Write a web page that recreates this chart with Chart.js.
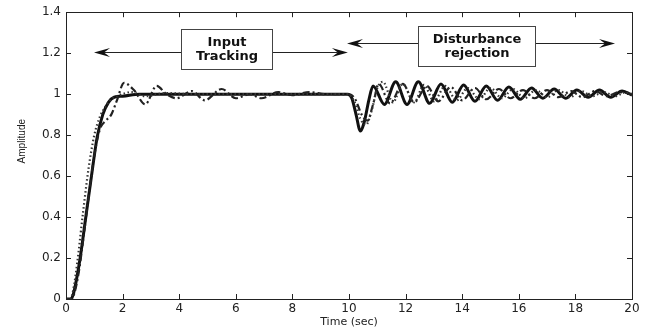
<!DOCTYPE html>
<html>
<head>
<meta charset="utf-8">
<script src="https://cdn.jsdelivr.net/npm/chart.js@4/dist/chart.umd.min.js"></script>
<style>
  body { margin: 0; background: #fff; }
  #wrap { width: 648px; height: 334px; position: relative; }
</style>
</head>
<body>
<div id="wrap"><canvas id="stepChart"></canvas></div>
<script>
// tick labels
const timeTicks = [0, 2, 4, 6, 8, 10, 12, 14, 16, 18, 20];
const ampTicks = [0, 0.2, 0.4, 0.6, 0.8, 1, 1.2, 1.4];

// solid response
const solidTime = [0, 0.15, 0.25, 0.35, 0.5, 0.7, 0.9, 1.1, 1.3, 1.5, 1.7, 2.0, 2.6, 4, 6, 8, 9.95, 10.1, 10.25, 10.4,
    10.55, 10.7, 10.85, 11.25, 11.65, 12.05, 12.45, 12.85, 13.25, 13.65, 14.05, 14.45, 14.85, 15.25, 15.65, 16.05,
    16.45, 16.85, 17.25, 17.65, 18.05, 18.45, 18.85, 19.25, 19.65, 20];
const solidAmp = [0, 0, 0.02, 0.08, 0.2, 0.4, 0.6, 0.79, 0.9, 0.96, 0.985, 0.99, 1.0, 1.0, 1.0, 1.0, 1.0, 0.98, 0.9, 0.82,
    0.87, 0.97, 1.04, 0.95, 1.06, 0.95, 1.06, 0.955, 1.05, 0.96, 1.045, 0.965, 1.04, 0.97, 1.035, 0.975,
    1.03, 0.98, 1.025, 0.98, 1.02, 0.985, 1.02, 0.985, 1.015, 0.995];

// dash-dot response
const dashTime = [0, 0.2, 0.3, 0.45, 0.6, 0.8, 1.0, 1.2, 1.4, 1.6, 1.8, 2.05, 2.4, 2.8, 3.2, 3.55, 3.9, 4.45, 4.9, 5.5,
    6.0, 6.5, 6.9, 7.5, 8.0, 8.6, 9.2, 9.95, 10.2, 10.45, 10.65, 10.85, 11.05, 11.45, 11.9, 12.3, 12.75, 13.15, 13.6, 14.0,
    14.45, 14.85, 15.3, 15.7, 16.15, 16.55, 17.0, 17.4, 17.85, 18.25, 18.7, 19.1, 19.55, 20];
const dashAmp = [0, 0, 0.03, 0.13, 0.28, 0.5, 0.7, 0.83, 0.87, 0.9, 0.97, 1.055, 1.02, 0.95, 1.04, 1.0, 0.98, 1.015, 0.97, 1.025,
    0.98, 1.0, 0.98, 1.01, 0.995, 1.01, 1.0, 1.0, 0.98, 0.9, 0.87, 0.95, 1.05, 0.955, 1.05, 0.96, 1.04, 0.965, 1.035, 0.97,
    1.03, 0.975, 1.025, 0.98, 1.02, 0.98, 1.02, 0.985, 1.015, 0.985, 1.015, 0.99, 1.01, 1.0];

// dotted response
const dotTime = [0, 0.15, 0.25, 0.4, 0.6, 0.8, 1.0, 1.2, 1.4, 1.6, 1.9, 2.3, 2.8, 3.5, 4.5, 9.95, 10.2, 10.4, 10.6, 10.8,
    11.0, 11.2, 11.55, 11.9, 12.3, 12.65, 13.0, 13.4, 13.8, 14.2, 14.6, 15.0, 15.4, 15.8, 16.2, 16.6, 17.0, 17.4, 17.8, 18.2,
    18.6, 19.0, 19.4, 19.8, 20];
const dotAmp = [0, 0, 0.04, 0.18, 0.42, 0.64, 0.8, 0.89, 0.94, 0.975, 0.995, 1.01, 0.99, 1.005, 1.0, 1.0, 0.96, 0.88, 0.85, 0.92,
    1.03, 1.06, 0.96, 1.05, 0.96, 1.045, 0.965, 1.04, 0.97, 1.03, 0.975, 1.03, 0.98, 1.025, 0.98, 1.02, 0.985, 1.02, 0.985, 1.015,
    0.99, 1.01, 0.99, 1.01, 1.0];

// text boxes with double arrows (data units)
const notes = [
    { lines: ['Input', 'Tracking'], from: 0.99, to: 9.96, level: 1.205, box: [4.06, 7.28, 1.317, 1.123] },
    { lines: ['Disturbance', 'rejection'], from: 9.93, to: 19.4, level: 1.25, box: [12.44, 16.57, 1.332, 1.138] }
];

const toPoints = (ts, vs) => ts.map((t, i) => ({ x: t, y: vs[i] }));

function arrowHead(ctx, xTip, yTip, dir) {
    const len = 16, half = 4.5, notch = 10;
    ctx.beginPath();
    ctx.moveTo(xTip, yTip);
    ctx.lineTo(xTip - dir * len, yTip - half);
    ctx.lineTo(xTip - dir * notch, yTip);
    ctx.lineTo(xTip - dir * len, yTip + half);
    ctx.closePath();
    ctx.fill();
}

const annotations = {
    id: 'annotations',
    afterDatasetsDraw(chart) {
        const { ctx, scales: { x, y } } = chart;
        ctx.save();
        notes.forEach(n => {
            const yy = Math.round(y.getPixelForValue(n.level)) + 0.5;
            const x1 = x.getPixelForValue(n.from);
            const x2 = x.getPixelForValue(n.to);
            ctx.strokeStyle = '#222';
            ctx.fillStyle = '#111';
            ctx.lineWidth = 1;
            ctx.beginPath();
            ctx.moveTo(x1 + 10, yy);
            ctx.lineTo(x2 - 10, yy);
            ctx.stroke();
            arrowHead(ctx, x1, yy, -1);
            arrowHead(ctx, x2, yy, 1);

            const bl = Math.round(x.getPixelForValue(n.box[0])) + 0.5;
            const br = Math.round(x.getPixelForValue(n.box[1])) + 0.5;
            const bt = Math.round(y.getPixelForValue(n.box[2])) + 0.5;
            const bb = Math.round(y.getPixelForValue(n.box[3])) + 0.5;
            ctx.fillStyle = '#fff';
            ctx.fillRect(bl, bt, br - bl, bb - bt);
            ctx.strokeStyle = '#444';
            ctx.strokeRect(bl, bt, br - bl, bb - bt);

            ctx.fillStyle = '#111';
            ctx.font = 'bold 13px "DejaVu Sans"';
            ctx.textAlign = 'center';
            ctx.textBaseline = 'middle';
            const cx = (bl + br) / 2, cy = (bt + bb) / 2;
            ctx.fillText(n.lines[0], cx, cy - 7);
            ctx.fillText(n.lines[1], cx, cy + 7);
        });
        ctx.restore();
    }
};

// matlab style box, inward ticks and axis titles
const matlabAxes = {
    id: 'matlabAxes',
    afterDraw(chart) {
        const { ctx, chartArea: a, scales: { x, y } } = chart;
        ctx.save();
        ctx.strokeStyle = '#222';
        ctx.lineWidth = 1;
        ctx.strokeRect(Math.round(a.left) + 0.5, Math.round(a.top) + 0.5, Math.round(a.right - a.left), Math.round(a.bottom - a.top));
        ctx.beginPath();
        x.ticks.forEach(t => {
            const px = Math.round(x.getPixelForValue(t.value)) + 0.5;
            ctx.moveTo(px, a.bottom); ctx.lineTo(px, a.bottom - 5);
            ctx.moveTo(px, a.top); ctx.lineTo(px, a.top + 5);
        });
        y.ticks.forEach(t => {
            const py = Math.round(y.getPixelForValue(t.value)) + 0.5;
            ctx.moveTo(a.left, py); ctx.lineTo(a.left + 5, py);
            ctx.moveTo(a.right, py); ctx.lineTo(a.right - 5, py);
        });
        ctx.stroke();

        ctx.fillStyle = '#222';
        ctx.textAlign = 'center';
        ctx.textBaseline = 'middle';
        ctx.font = '11px "DejaVu Sans"';
        ctx.fillText('Time (sec)', (a.left + a.right) / 2, a.bottom + 23);
        ctx.translate(22, a.top + 129);
        ctx.rotate(-Math.PI / 2);
        ctx.font = '10px "Liberation Sans Narrow", "Liberation Sans"';
        ctx.fillText('Amplitude', 0, 0);
        ctx.restore();
    }
};

const tickFont = { family: '"DejaVu Sans"', size: 12 };

const ctx = document.getElementById('stepChart').getContext('2d');
new Chart(ctx, {
    type: 'line',
    data: {
        datasets: [
            {
                label: 'dotted',
                data: toPoints(dotTime, dotAmp),
                borderColor: '#333',
                borderWidth: 2.2,
                borderDash: [1.5, 2.5]
            },
            {
                label: 'dash-dot',
                data: toPoints(dashTime, dashAmp),
                borderColor: '#222',
                borderWidth: 2.2,
                borderDash: [7, 3, 2, 3]
            },
            {
                label: 'solid',
                data: toPoints(solidTime, solidAmp),
                borderColor: '#111',
                borderWidth: 3
            }
        ]
    },
    options: {
        responsive: true,
        maintainAspectRatio: false,
        animation: false,
        layout: { padding: { left: 0, top: 11, right: 16, bottom: 0 } },
        elements: {
            point: { radius: 0 },
            line: { tension: 0.4, cubicInterpolationMode: 'monotone', fill: false }
        },
        plugins: { legend: { display: false }, tooltip: { enabled: false } },
        scales: {
            x: {
                type: 'linear',
                min: 0,
                max: 20,
                grid: { display: false, drawTicks: false },
                border: { display: false },
                afterBuildTicks: scale => { scale.ticks = timeTicks.map(v => ({ value: v })); },
                afterFit: scale => { scale.height = 35; },
                ticks: { color: '#222', font: tickFont, padding: 3, maxRotation: 0, autoSkip: false, callback: v => String(v) }
            },
            y: {
                min: 0,
                max: 1.4,
                grid: { display: false, drawTicks: false },
                border: { display: false },
                afterBuildTicks: scale => { scale.ticks = ampTicks.map(v => ({ value: v })); },
                afterFit: scale => { scale.width = 66; },
                ticks: { color: '#222', font: tickFont, padding: 5, callback: v => String(v) }
            }
        }
    },
    plugins: [annotations, matlabAxes]
});
</script>
</body>
</html>
